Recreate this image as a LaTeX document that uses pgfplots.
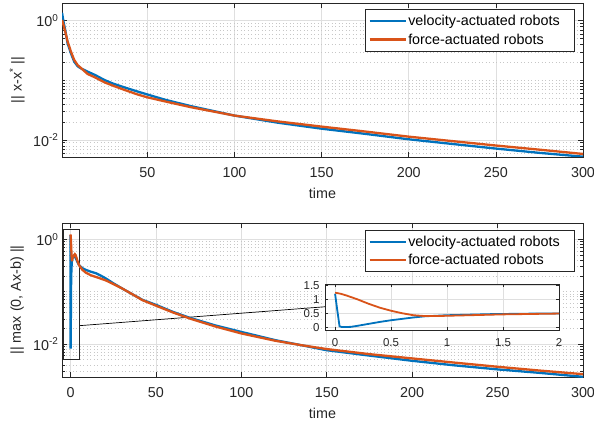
\documentclass[border=0pt]{standalone}
\usepackage{fontspec}
\setmainfont{Liberation Sans}
\usepackage{pgfplots}
\usepackage{pgfplotstable}
\pgfplotsset{compat=1.18}
\definecolor{mblue}{rgb}{0,0.447,0.741}
\definecolor{morange}{rgb}{0.85,0.325,0.098}
\definecolor{axgray}{rgb}{0.15,0.15,0.15}
\definecolor{gridmaj}{rgb}{0.873,0.873,0.873}
\definecolor{gridmin}{rgb}{0.78,0.78,0.78}

\pgfplotstableread{
t v
1 1.36
2 0.92
3 0.66
4.2 0.42
6 0.29
8 0.206
10 0.172
12 0.158
15.7 0.14
20 0.123
25.3 0.1016
30 0.089
37 0.076
44.4 0.065
50 0.058
60 0.0475
75 0.037
100 0.0257
125 0.0195
150 0.0155
175 0.0127
200 0.0103
225 0.0086
250 0.0072
275 0.0061
300 0.00527
}\topblue
\pgfplotstableread{
t v
1 1.03
2 0.82
3 0.63
4.2 0.45
6 0.31
8 0.22
10 0.18
12 0.16
15.7 0.128
20 0.112
25.3 0.093
30 0.082
37 0.069
44.4 0.058
50 0.052
60 0.0445
75 0.0355
100 0.0257
125 0.0205
150 0.0168
175 0.0139
200 0.0114
225 0.0096
250 0.0081
275 0.0069
300 0.00585
}\toporange
\pgfplotstableread{
t v
0 1.2
0.02 0.6
0.04 0.03
0.06 0.0082
0.1 0.009
0.14 0.012
0.2 0.05
0.3 0.12
0.4 0.19
0.5 0.25
0.6 0.3
0.7 0.35
0.8 0.39
0.9 0.41
1.0 0.43
1.2 0.45
1.4 0.47
1.6 0.48
1.8 0.49
2.0 0.49
2.5 0.47
3 0.44
4 0.37
5 0.32
7 0.28
9 0.26
12 0.24
15 0.224
18 0.2
20.5 0.18
25 0.145
30 0.116
36 0.09
42 0.07
50 0.056
60 0.041
70 0.0315
85 0.0225
100 0.017
120 0.0118
135 0.0095
150 0.0076
175 0.006
200 0.00477
225 0.0039
250 0.00327
275 0.0028
300 0.00236
}\botblue
\pgfplotstableread{
t v
0 1.24
0.05 1.2
0.1 1.14
0.2 1.0
0.3 0.84
0.4 0.7
0.5 0.59
0.6 0.5
0.7 0.43
0.8 0.40
0.9 0.40
1.0 0.41
1.2 0.43
1.5 0.46
2.0 0.49
2.5 0.52
3 0.5
4 0.39
5 0.32
7 0.26
9 0.23
12 0.205
15 0.19
18 0.176
20.5 0.165
25 0.14
30 0.116
36 0.09
42 0.069
50 0.054
60 0.04
70 0.0305
85 0.0215
100 0.0159
120 0.0115
135 0.0095
150 0.008
175 0.0064
200 0.0053
225 0.0044
250 0.00367
275 0.0031
300 0.00265
}\botorange

\newcommand{\bigf}{\fontsize{14.4}{16}\selectfont}
\newcommand{\smallf}{\fontsize{11.5}{13}\selectfont}

\pgfplotsset{
  legend image code/.code={\draw[#1] (0bp,0bp) -- (36bp,0bp);},
  mstyle/.style={
    scale only axis, width=521bp, height=154bp,
    /pgf/number format/assume math mode=true,
    axis line style={axgray, line width=0.6bp},
    every tick/.style={axgray, line width=0.6bp},
    major tick length=5bp, minor tick length=3bp,
    tick label style={font=\bigf, text=axgray},
    label style={font=\bigf, text=axgray},
    xmajorgrids=true, ymajorgrids=true, yminorgrids=true,
    major grid style={gridmaj, line width=0.6bp},
    minor grid style={gridmin, line width=0.6bp, dash pattern=on 0.8bp off 2.7bp},
    xticklabel style={anchor=base, yshift=-20.6bp},
    yticklabel style={anchor=east},
    ytick={0.01,1}, yticklabels={10\textsuperscript{-2},10\textsuperscript{0}},
    xlabel style={at={(0.5,0)}, anchor=base, yshift=-41bp},
    no markers,
    legend cell align=left,
    legend style={at={(1,1)}, anchor=north east, xshift=-9bp,
      draw=axgray, line width=0.5bp, fill=white, font=\bigf,
      inner xsep=3bp, inner ysep=2.4bp, row sep=0pt,
      nodes={inner xsep=1.5bp, inner ysep=2bp, text height=12bp, text depth=2.3bp}},
  },
  bl/.style={mblue, line width=2.3bp},
  ol/.style={morange, line width=2.3bp},
}

\begin{document}
\begin{tikzpicture}
\useasboundingbox (0,0) rectangle (594bp,428bp);
% top
\begin{axis}[ymode=log, mstyle, at={(62bp,271bp)}, anchor=south west,
  xmin=1, xmax=300, ymin=0.0052, ymax=1.98,
  xtick={50,100,...,300},
  minor ytick={0.006,0.007,0.008,0.009,0.02,0.03,0.04,0.05,0.06,0.07,0.08,0.09,0.1,0.2,0.3,0.4,0.5,0.6,0.7,0.8,0.9},
  xlabel={time},
  ylabel={|| x-x\textsuperscript{*} ||},
  ylabel style={at={(-0.0774,0.5)}, anchor=base},
  legend style={yshift=-6.3bp},
]
\addplot[bl] table[x=t,y=v] {\topblue};
\addlegendentry{\makebox[161bp][l]{velocity-actuated robots}}
\addplot[ol] table[x=t,y=v] {\toporange};
\addlegendentry{force-actuated robots}
\end{axis}
% bottom
\begin{axis}[ymode=log, mstyle, at={(62bp,51bp)}, anchor=south west,
  xmin=-5, xmax=300, ymin=0.00234, ymax=2.05,
  xtick={0,50,...,300},
  minor ytick={0.003,0.004,0.005,0.006,0.007,0.008,0.009,0.02,0.03,0.04,0.05,0.06,0.07,0.08,0.09,0.1,0.2,0.3,0.4,0.5,0.6,0.7,0.8,0.9,2},
  xlabel={time},
  ylabel={|| max (0, Ax-b) ||},
  ylabel style={at={(-0.079,0.5)}, anchor=base},
  legend style={yshift=-7bp},
]
\addplot[black, line width=0.7bp, forget plot] coordinates {(5.3,0.0224) (149.5,0.0516)};
\addplot[axgray, line width=0.7bp, forget plot] coordinates {(-4.3,1.55) (5.3,1.55) (5.3,0.0051) (-4.3,0.0051) (-4.3,1.55)};
\addplot[bl] table[x=t,y=v] {\botblue};
\addlegendentry{\makebox[161bp][l]{velocity-actuated robots}}
\addplot[ol] table[x=t,y=v] {\botorange};
\addlegendentry{force-actuated robots}
\end{axis}
% inset
\begin{axis}[scale only axis, width=234bp, height=46bp, at={(325bp,98bp)}, anchor=south west,
  /pgf/number format/assume math mode=true,
  axis background/.style={fill=white},
  axis line style={axgray, line width=0.6bp},
  every tick/.style={axgray, line width=0.6bp},
  major tick length=3bp,
  tick label style={font=\smallf, text=axgray},
  xmin=-0.09, xmax=2, ymin=-0.1, ymax=1.55,
  xtick={0,0.5,1,1.5,2}, ytick={0,0.5,1,1.5},
  grid=major, major grid style={gridmaj, line width=0.6bp},
  xticklabel style={anchor=base, yshift=-16.7bp},
  yticklabel style={anchor=east, xshift=-1.9bp},
  no markers,
]
\addplot[mblue, line width=1.8bp, restrict x to domain=-1:2.5] table[x=t,y=v] {\botblue};
\addplot[morange, line width=1.8bp, restrict x to domain=-1:2.5] table[x=t,y=v] {\botorange};
\end{axis}
\end{tikzpicture}
\end{document}
